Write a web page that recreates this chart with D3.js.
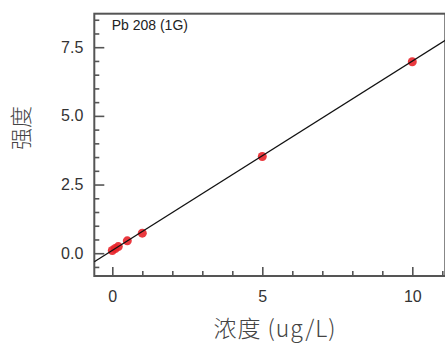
<!DOCTYPE html>
<html>
<head>
<meta charset="utf-8">
<script src="https://cdn.jsdelivr.net/npm/d3@7"></script>
<style>
  body { margin: 0; background: #fff; }
  svg { display: block; }
</style>
</head>
<body>
<script>
// calibration data
var conc = [0, 0.1, 0.2, 0.5, 1, 5, 10];
var intensity = [0.1, 0.17, 0.24, 0.45, 0.73, 3.52, 6.97];
var fitSlope = 0.689, fitIntercept = 0.103;
var xMajor = [0, 5, 10];
var xMinor = [1, 2, 3, 4, 6, 7, 8, 9, 11];
var yMajor = [0, 2.5, 5, 7.5];
var yMinor = [-0.5, 0.5, 1, 1.5, 2, 3, 3.5, 4, 4.5, 5.5, 6, 6.5, 7, 8, 8.5];

var width = 445, height = 347;
var svg = d3.select("body").append("svg")
    .attr("width", width)
    .attr("height", height);

var x = d3.scaleLinear().domain([-0.6, 11.1]).range([94.3, 445.3]);
var y = d3.scaleLinear().domain([-0.83, 8.72]).range([276, 13.7]);

//frame
svg.append("rect")
    .attr("x", x.range()[0]).attr("y", y.range()[1])
    .attr("width", x.range()[1] - x.range()[0])
    .attr("height", y.range()[0] - y.range()[1])
    .style("fill", "none").style("stroke", "#555").style("stroke-width", 2);

//minor ticks
svg.append("g").attr("transform", "translate(" + x.range()[0] + ",0)")
    .call(d3.axisLeft(y).tickValues(yMinor).tickSizeInner(-5).tickSizeOuter(0).tickFormat(""))
    .call(function(g) { g.select(".domain").remove(); });
svg.append("g").attr("transform", "translate(0," + y.range()[0] + ")")
    .call(d3.axisBottom(x).tickValues(xMinor).tickSizeInner(-5).tickSizeOuter(0).tickFormat(""))
    .call(function(g) { g.select(".domain").remove(); });

//major ticks + labels
var yAxis = svg.append("g").attr("transform", "translate(" + x.range()[0] + ",0)")
    .call(d3.axisLeft(y).tickValues(yMajor).tickSizeInner(-10).tickSizeOuter(0).tickPadding(11).tickFormat(d3.format(".1f")));
var xAxis = svg.append("g").attr("transform", "translate(0," + y.range()[0] + ")")
    .call(d3.axisBottom(x).tickValues(xMajor).tickSizeInner(-9).tickSizeOuter(0).tickPadding(15).tickFormat(d3.format("d")));

[xAxis, yAxis].forEach(function(g) {
    g.select(".domain").remove();
    g.selectAll("text").style("font-family", "'Liberation Sans', Arial, sans-serif")
        .style("font-size", "16px").style("fill", "#333");
});
svg.selectAll(".tick line").style("stroke", "#555").style("stroke-width", 1.6);

//points
svg.append("g").selectAll("circle")
    .data(conc)
    .enter()
    .append("circle")
    .attr("cx", function(d) { return x(d); })
    .attr("cy", function(d, i) { return y(intensity[i]); })
    .attr("r", 4.5)
    .style("fill", "#e8232a")
    .style("opacity", 0.9);

//fit line
var xd = x.domain();
svg.append("line")
    .attr("x1", x(xd[0])).attr("y1", y(fitSlope * xd[0] + fitIntercept))
    .attr("x2", x(xd[1])).attr("y2", y(fitSlope * xd[1] + fitIntercept))
    .style("stroke", "#111").style("stroke-width", 1.3);

//title inside plot
svg.append("text")
    .attr("x", 111.7).attr("y", 29.5)
    .style("font-family", "'Liberation Sans', Arial, sans-serif")
    .style("font-size", "14px").style("fill", "#222")
    .text("Pb 208 (1G)");

//axis titles
svg.append("text")
    .attr("text-anchor", "middle")
    .attr("x", 275).attr("y", 337)
    .style("font-family", "'Noto Sans CJK SC', sans-serif")
    .style("font-size", "23px").style("letter-spacing", "1px")
    .style("font-weight", 300).style("fill", "#444")
    .text("浓度 (ug/L)");

svg.append("text")
    .attr("text-anchor", "middle")
    .attr("transform", "translate(21,128) rotate(-90)")
    .attr("dy", "0.35em")
    .style("font-family", "'Noto Sans CJK SC', sans-serif")
    .style("font-size", "22px").style("font-weight", 300).style("fill", "#444")
    .text("强度");
</script>
</body>
</html>
